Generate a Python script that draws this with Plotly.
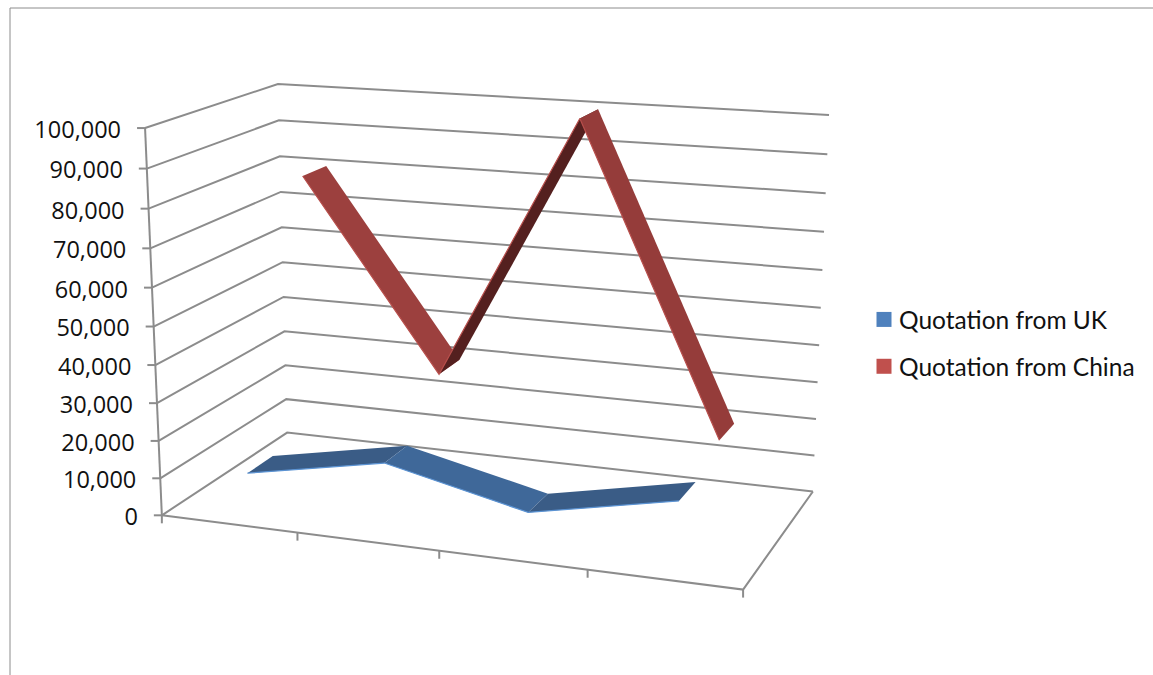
import numpy as np
import plotly.graph_objects as go

# ---- data ----
categories = ["1", "2", "3", "4"]
uk_values = [10000, 17000, 8500, 16000]
china_values = [80500, 30000, 100000, 20000]
y_ticks = list(range(0, 100001, 10000))
uk_name = "Quotation from UK"
china_name = "Quotation from China"

# ---- 3-D chart box -> page projection, fitted from the box corners ----
box_corners = [(0, 0, 0), (1, 0, 0), (0, 1, 0), (1, 1, 0), (0, 0, 1), (0, 1, 1), (1, 1, 1)]
page_corners = [(162, 515), (743, 590), (287, 433), (813, 491), (145, 128), (278, 84), (829, 115)]
rows = []
for (X, Y, Z), (u, v) in zip(box_corners, page_corners):
    rows.append([X, Y, Z, 1, 0, 0, 0, 0, -u * X, -u * Y, -u * Z, -u])
    rows.append([0, 0, 0, 0, X, Y, Z, 1, -v * X, -v * Y, -v * Z, -v])
P = np.linalg.svd(np.array(rows, float))[2][-1].reshape(3, 4)


def project(x, d, value):
    q = P @ np.array([x, d, value / 100000, 1.0])
    return q[0] / q[2], q[1] / q[2]


def poly(points, fill, line=None, width=1):
    pts = [project(*p) for p in points]
    return go.Scatter(
        x=[p[0] for p in pts], y=[p[1] for p in pts], mode="lines", hoverinfo="skip",
        fill="toself" if fill else None, fillcolor=fill, showlegend=False,
        line=dict(color=line or fill or "#000", width=width if (line or not fill) else 0),
    )


GRID = "#8c8c8c"
GRID_W = 2
traces = []
# walls and floor
for t in y_ticks[1:]:
    traces.append(poly([(0, 0, t), (0, 1, t), (1, 1, t)], None, GRID, GRID_W))
traces.append(poly([(1, 1, 0), (0, 1, 0), (0, 0, 0), (1, 0, 0), (1, 1, 0)], None, GRID, GRID_W))
traces.append(poly([(0, 0, 0), (0, 0, 100000)], None, GRID, GRID_W))


# offset tick marks in page units
def tick(a, dx, dy):
    u, v = a
    return go.Scatter(x=[u, u + dx], y=[v, v + dy], mode="lines", hoverinfo="skip", showlegend=False,
                      line=dict(color=GRID, width=GRID_W))


for t in y_ticks:
    traces.append(tick(project(0, 0, t), -8, 0))
n = len(categories)
for i in range(n + 1):
    traces.append(tick(project(i / n, 0, 0), 0, 8))

label_pts = [project(0, 0, t) for t in y_ticks]
traces.append(go.Scatter(
    x=[p[0] - 24 for p in label_pts], y=[p[1] + 4 for p in label_pts], mode="text",
    text=[f"{t:,}" for t in y_ticks], textposition="middle left", hoverinfo="skip", showlegend=False,
    textfont=dict(family="Open Sans", size=23.5, color="#111111"), cliponaxis=False,
))


def ribbon(values, d0, d1, fills, edge):
    out = []
    xs = [(i + 0.5) / n for i in range(n)]
    for s in range(n - 1):
        out.append(poly([(xs[s], d0, values[s]), (xs[s + 1], d0, values[s + 1]),
                         (xs[s + 1], d1, values[s + 1]), (xs[s], d1, values[s])], fills[s]))
    out.append(poly([(x, d0, v) for x, v in zip(xs, values)], None, edge, 1.2))
    return out


traces += ribbon(uk_values, 0.15, 0.35, ["#3a5c86", "#3f6899", "#3a5c86"], "#5b93d3")
traces += ribbon(china_values, 0.65, 0.85, ["#9c403e", "#54201f", "#953c3a"], "#b84f4c")

# legend entries
for name, color in [(uk_name, "#4f81bd"), (china_name, "#c0504d")]:
    traces.append(go.Scatter(x=[None], y=[None], mode="markers", name=name, legendgroup=name,
                             marker=dict(symbol="square", size=15, color=color)))

fig = go.Figure(traces)
fig.update_layout(
    width=1153, height=675, margin=dict(l=0, r=0, t=0, b=0),
    paper_bgcolor="white", plot_bgcolor="white",
    xaxis=dict(range=[0, 1153], visible=False, fixedrange=True),
    yaxis=dict(range=[675, 0], visible=False, fixedrange=True),
    font=dict(family="Lato", size=24.5, color="#111111"),
    legend=dict(x=866 / 1153, y=1 - 297 / 675, xanchor="left", yanchor="top", indentation=-7,
                bgcolor="rgba(0,0,0,0)", tracegroupgap=12, traceorder="grouped", itemwidth=30),
    shapes=[
        dict(type="line", xref="paper", yref="paper", x0=10 / 1153, x1=1, y0=1 - 8 / 675, y1=1 - 8 / 675,
             line=dict(color=GRID, width=1)),
        dict(type="line", xref="paper", yref="paper", x0=10 / 1153, x1=10 / 1153, y0=0, y1=1 - 8 / 675,
             line=dict(color=GRID, width=1)),
    ],
)
fig.write_html(
    "out.html",
    config=dict(displayModeBar=False),
    post_script="document.body.style.margin='0';"
                "document.querySelectorAll('.legendsymbols').forEach(function(e){e.setAttribute('transform','translate(5,0)');});",
)
